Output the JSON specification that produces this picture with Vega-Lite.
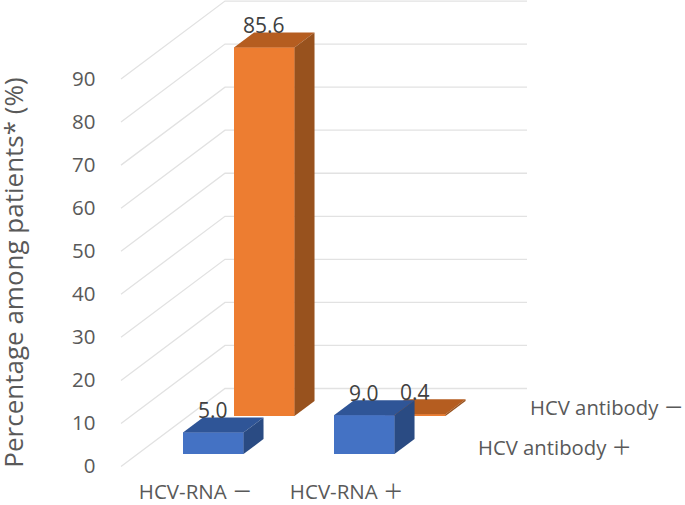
{
  "$schema": "https://vega.github.io/schema/vega-lite/v6.json",
  "width": 685,
  "height": 505,
  "padding": 0,
  "autosize": {"type": "none"},
  "background": "white",
  "view": {"stroke": null},
  "config": {"text": {"font": "Open Sans, Noto Sans CJK JP"}},
  "datasets": {
    "bars": [
      {"rna": "HCV-RNA －", "antibody": "HCV antibody －", "value": 85.6},
      {"rna": "HCV-RNA ＋", "antibody": "HCV antibody －", "value": 0.4},
      {"rna": "HCV-RNA －", "antibody": "HCV antibody ＋", "value": 5.0},
      {"rna": "HCV-RNA ＋", "antibody": "HCV antibody ＋", "value": 9.0}
    ],
    "ticks": [
      {"tick": 0}, {"tick": 10}, {"tick": 20}, {"tick": 30}, {"tick": 40},
      {"tick": 50}, {"tick": 60}, {"tick": 70}, {"tick": 80}, {"tick": 90}
    ],
    "rnaLabels": [{"rna": "HCV-RNA －", "i": 0}, {"rna": "HCV-RNA ＋", "i": 1}],
    "abLabels": [{"antibody": "HCV antibody ＋", "j": 0}, {"antibody": "HCV antibody －", "j": 1}]
  },
  "encoding": {
    "x": {"field": "px", "type": "quantitative", "axis": null, "scale": {"domain": [-3.0248, 8.2975], "nice": false, "zero": false}},
    "y": {"field": "py", "type": "quantitative", "scale": {"domain": [-8.943, 108.36], "nice": false, "zero": false},
      "axis": {"values": [0, 10, 20, 30, 40, 50, 60, 70, 80, 90], "grid": false, "domain": false, "ticks": false, "offset": -95, "labelPadding": 0,
        "labelFont": "Open Sans", "labelFontSize": 20.5, "labelColor": "#595959",
        "title": "Percentage among patients* (%)", "titleFont": "Open Sans", "titleFontSize": 26, "titleFontWeight": "normal", "titleColor": "#595959",
        "titleAngle": -90, "titleBaseline": "alphabetic", "titleAlign": "center", "titleX": -73, "titleY": 272}}
  },
  "layer": [
    {
      "data": {"name": "ticks"},
      "transform": [
        {"calculate": "[0,1,2]", "as": "v"},
        {"flatten": ["v"]},
        {"calculate": "[-1.025,0.694,5.686][datum.v]", "as": "px"},
        {"calculate": "datum.tick + (datum.v > 0 ? 18.12 : 0)", "as": "py"}
      ],
      "mark": {"type": "line", "stroke": "#e2e2e2", "strokeWidth": 1.3},
      "encoding": {"detail": {"field": "tick", "type": "nominal"}}
    },
    {
      "data": {"name": "bars"},
      "transform": [
        {"calculate": "indexof(['HCV-RNA －','HCV-RNA ＋'],datum.rna)", "as": "i"},
        {"calculate": "indexof(['HCV antibody ＋','HCV antibody －'],datum.antibody)", "as": "j"},
        {"calculate": "2.496*datum.i + 0.843*datum.j", "as": "x0"},
        {"calculate": "datum.x0 + 1", "as": "x1"},
        {"calculate": "2.9 + 8.83*datum.j", "as": "base"},
        {"calculate": "datum.base + datum.value", "as": "top"},
        {"calculate": "[0,1]", "as": "t"},
        {"flatten": ["t"]}
      ],
      "layer": [
        {
          "transform": [{"filter": "datum.j == 1"}, {"calculate": "datum.x0", "as": "px"}, {"calculate": "datum.top", "as": "py"}, {"calculate": "'front' + datum.j", "as": "shade"}],
          "mark": {"type": "rect"},
          "encoding": {"x2": {"field": "x1"}, "y2": {"field": "base"}, "color": {"field": "shade", "type": "nominal", "legend": null, "scale": {"domain": ["front0", "top0", "side0", "front1", "top1", "side1"], "range": ["#4472C4", "#2F5597", "#2A4B83", "#ED7D31", "#B55D20", "#98521E"]}}}
        },
        {
          "transform": [{"filter": "datum.j == 1"}, {"calculate": "datum.x0 + datum.t*0.331", "as": "px"}, {"calculate": "datum.x1 + datum.t*0.331", "as": "pxb"}, {"calculate": "datum.top + datum.t*3.484", "as": "py"}, {"calculate": "'top' + datum.j", "as": "shade"}],
          "mark": {"type": "area", "orient": "horizontal"},
          "encoding": {"x2": {"field": "pxb"}, "detail": {"field": "i", "type": "nominal"}, "color": {"field": "shade", "type": "nominal", "legend": null}}
        },
        {
          "transform": [{"filter": "datum.j == 1"}, {"calculate": "datum.x1 + datum.t*0.331", "as": "px"}, {"calculate": "datum.top + datum.t*3.484", "as": "py"}, {"calculate": "datum.base + datum.t*3.484", "as": "pyb"}, {"calculate": "'side' + datum.j", "as": "shade"}],
          "mark": {"type": "area", "orient": "vertical"},
          "encoding": {"y2": {"field": "pyb"}, "detail": {"field": "i", "type": "nominal"}, "color": {"field": "shade", "type": "nominal", "legend": null}}
        },
        {
          "transform": [{"filter": "datum.j == 0"}, {"calculate": "datum.x0", "as": "px"}, {"calculate": "datum.top", "as": "py"}, {"calculate": "'front' + datum.j", "as": "shade"}],
          "mark": {"type": "rect"},
          "encoding": {"x2": {"field": "x1"}, "y2": {"field": "base"}, "color": {"field": "shade", "type": "nominal", "legend": null}}
        },
        {
          "transform": [{"filter": "datum.j == 0"}, {"calculate": "datum.x0 + datum.t*0.331", "as": "px"}, {"calculate": "datum.x1 + datum.t*0.331", "as": "pxb"}, {"calculate": "datum.top + datum.t*3.484", "as": "py"}, {"calculate": "'top' + datum.j", "as": "shade"}],
          "mark": {"type": "area", "orient": "horizontal"},
          "encoding": {"x2": {"field": "pxb"}, "detail": {"field": "i", "type": "nominal"}, "color": {"field": "shade", "type": "nominal", "legend": null}}
        },
        {
          "transform": [{"filter": "datum.j == 0"}, {"calculate": "datum.x1 + datum.t*0.331", "as": "px"}, {"calculate": "datum.top + datum.t*3.484", "as": "py"}, {"calculate": "datum.base + datum.t*3.484", "as": "pyb"}, {"calculate": "'side' + datum.j", "as": "shade"}],
          "mark": {"type": "area", "orient": "vertical"},
          "encoding": {"y2": {"field": "pyb"}, "detail": {"field": "i", "type": "nominal"}, "color": {"field": "shade", "type": "nominal", "legend": null}}
        },
        {
          "transform": [{"filter": "datum.t == 0"}, {"calculate": "datum.x0 + 0.49", "as": "px"}, {"calculate": "datum.top + 3.25", "as": "py"}, {"calculate": "format(datum.value, '.1f')", "as": "label"}],
          "mark": {"type": "text", "font": "Open Sans", "fontSize": 21, "color": "#404040", "align": "center", "baseline": "alphabetic"},
          "encoding": {"text": {"field": "label"}}
        }
      ]
    },
    {
      "data": {"name": "rnaLabels"},
      "transform": [{"calculate": "2.496*datum.i + 0.21", "as": "px"}, {"calculate": "-7.6", "as": "py"}],
      "mark": {"type": "text", "fontSize": 20.5, "color": "#595959", "align": "center", "baseline": "alphabetic"},
      "encoding": {"text": {"field": "rna"}}
    },
    {
      "data": {"name": "abLabels"},
      "transform": [{"calculate": "4.876 + 0.86*datum.j", "as": "px"}, {"calculate": "2.67 + 9.29*datum.j", "as": "py"}],
      "mark": {"type": "text", "fontSize": 20.3, "color": "#595959", "align": "left", "baseline": "alphabetic"},
      "encoding": {"text": {"field": "antibody"}}
    }
  ]
}
